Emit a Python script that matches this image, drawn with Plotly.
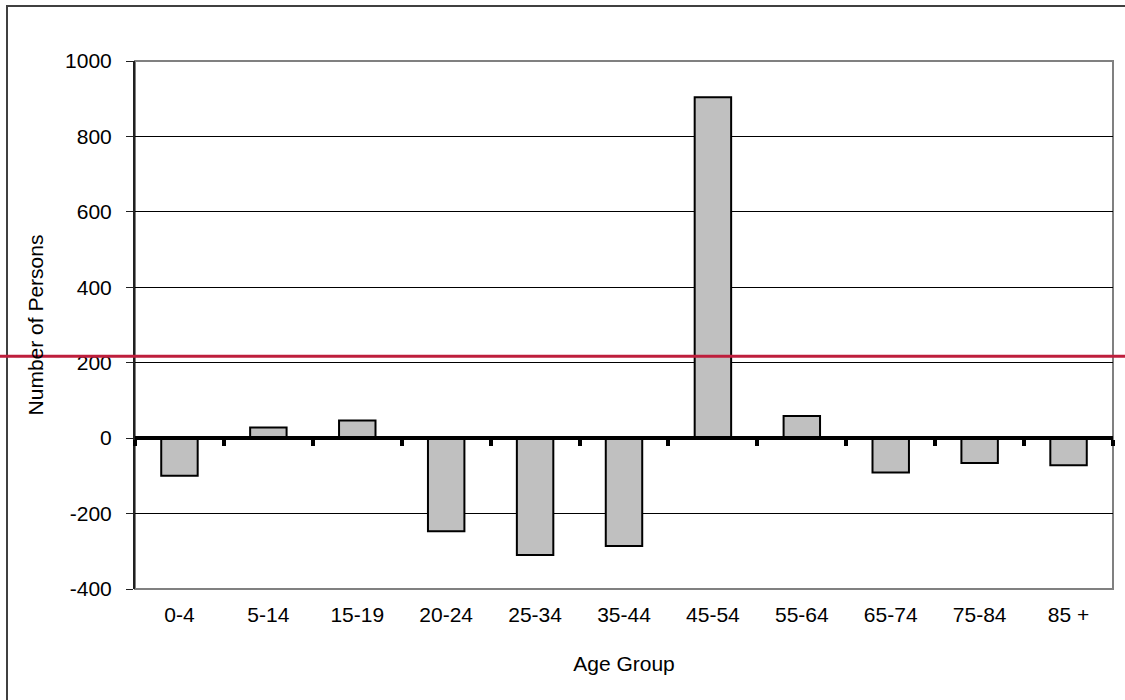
import plotly.graph_objects as go

age_groups = ["0-4", "5-14", "15-19", "20-24", "25-34", "35-44", "45-54", "55-64", "65-74", "75-84", "85 +"]
persons = [-100, 28, 47, -247, -310, -286, 904, 59, -91, -66, -72]
reference_value = 217
y_ticks = [-400, -200, 0, 200, 400, 600, 800, 1000]

W, H = 1125, 700
L, R, T, B = 135, 12, 61, 111
pw, ph = W - L - R, H - T - B

font = dict(family="Liberation Sans, Arial, sans-serif", size=21, color="black")

fig = go.Figure()
fig.add_trace(go.Bar(
    x=age_groups, y=persons,
    marker=dict(color="#C0C0C0", line=dict(color="black", width=2)),
    width=0.41, xaxis="x", yaxis="y", hoverinfo="x+y",
))
# helper trace so the zero-crossing category axis renders
fig.add_trace(go.Scatter(x=age_groups, y=[0] * len(age_groups), mode="lines",
                         line=dict(width=0), xaxis="x2", yaxis="y",
                         showlegend=False, hoverinfo="skip"))

ymin, ymax = -400, 1000
zero_pos = (0 - ymin) / (ymax - ymin)

fig.update_layout(
    width=W, height=H,
    margin=dict(l=L, r=R, t=T, b=B, pad=0),
    paper_bgcolor="white", plot_bgcolor="white",
    font=font, showlegend=False,
    xaxis=dict(
        type="category", categoryorder="array", categoryarray=age_groups,
        showline=False, ticks="", showgrid=False, zeroline=False,
        tickfont=font, ticklabelstandoff=11,
        title=dict(text="Age Group", font=font, standoff=31),
    ),
    xaxis2=dict(
        type="category", categoryorder="array", categoryarray=age_groups,
        overlaying="x", anchor="free", position=zero_pos, matches="x",
        showline=True, linecolor="black", linewidth=4,
        ticks="outside", tickson="boundaries", ticklen=6, tickwidth=4, tickcolor="black",
        showticklabels=False, showgrid=False, zeroline=False,
    ),
    yaxis=dict(
        range=[ymin, ymax], tickvals=y_ticks, ticktext=[str(v) for v in y_ticks],
        showline=True, linecolor="#202020", linewidth=2,
        ticks="outside", ticklen=7, tickcolor="#202020", tickwidth=1,
        showgrid=True, gridcolor="black", gridwidth=1,
        zeroline=False, tickfont=font, ticklabelstandoff=10,
        title=dict(text="Number of Persons", font=font, standoff=16),
    ),
    shapes=[
        # plot-area frame (gray)
        dict(type="rect", xref="paper", yref="paper", x0=0, x1=1, y0=0, y1=1,
             line=dict(color="#808080", width=2), layer="below"),
        # outer chart frame (right/bottom edges fall outside the picture)
        dict(type="rect", xref="paper", yref="paper",
             x0=(7 - L) / pw, x1=(1140 - L) / pw,
             y0=(H - B - 720) / ph, y1=(H - B - 6) / ph,
             line=dict(color="#404040", width=2), layer="below"),
        # red reference line across whole width
        dict(type="line", xref="paper", yref="y",
             x0=-L / pw, x1=(W - L) / pw, y0=reference_value, y1=reference_value,
             line=dict(color="#BE1E3C", width=3), layer="above"),
    ],
)

fig.write_html("out.html", config={"displayModeBar": False},
               post_script="document.body.style.margin='0';document.body.style.overflow='hidden';")
